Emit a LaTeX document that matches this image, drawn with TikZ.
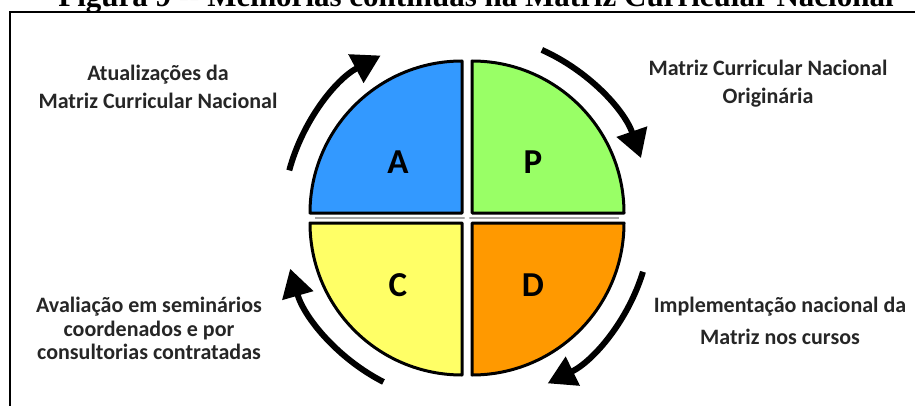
\documentclass[tikz,border=0pt]{standalone}
\usepackage{fontspec}
\setmainfont{Carlito}
\newfontfamily\titlefont{Liberation Serif}
\usepackage{tikz}
\usetikzlibrary{arrows.meta}

\definecolor{qblue}{RGB}{51,153,255}
\definecolor{qgreen}{RGB}{153,255,102}
\definecolor{qyellow}{RGB}{255,255,102}
\definecolor{qorange}{RGB}{255,153,0}

\tikzset{
    quadrant/.style={draw=black, line width=3pt, line join=round},
    letter/.style={font=\bfseries\fontsize{35}{35}\selectfont, text=black},
    label/.style={font=\bfseries\fontsize{22}{28}\selectfont, text=black!85, align=center},
    cyclearrow/.style={line width=6pt, -{Triangle[length=28pt,width=31pt]}}
}

\begin{document}
\begin{tikzpicture}[x=1pt,y=1pt]
    \useasboundingbox (0,0) rectangle (915,405);

    % Title, cut by the top of the page
    \node[font=\titlefont\bfseries\fontsize{31}{31}\selectfont, anchor=base] (title) at (476,398)
        {Figura 9 -- Melhorias contínuas na Matriz Curricular Nacional};

    % Frame
    \draw[line width=2pt] (925,392.7) -- (10,392.7) -- (10,-10);

    % Centre of the cycle
    \coordinate (c) at (467,187);

    % Draw the quadrants
    \draw[gray!70, line width=2pt] ([xshift=-152]c) -- ([xshift=152]c);
    \filldraw[quadrant, fill=qblue] ([shift={(-5,5)}]c) -- ++(180:152) arc (180:90:152) -- cycle; % A
    \filldraw[quadrant, fill=qgreen] ([shift={(5,5)}]c) -- ++(90:152) arc (90:0:152) -- cycle; % P
    \filldraw[quadrant, fill=qyellow] ([shift={(-5,-5)}]c) -- ++(270:152) arc (270:180:152) -- cycle; % C
    \filldraw[quadrant, fill=qorange] ([shift={(5,-5)}]c) -- ++(0:152) arc (0:-90:152) -- cycle; % D
    \fill[white] (c) circle (2.5);

    % Letters
    \node[letter] (act) at (398,243) {A};
    \node[letter] (plan) at (533,243) {P};
    \node[letter] (check) at (398,120) {C};
    \node[letter] (do) at (533,120) {D};

    % Arrows round the circle
    \draw[cyclearrow] ([shift={(165:184)}]c) arc (165:118:184);
    \draw[cyclearrow] ([shift={(66:184)}]c) arc (66:19:184);
    \draw[cyclearrow] ([shift={(-17:184)}]c) arc (-17:-64:184);
    \draw[cyclearrow] ([shift={(243:184)}]c) arc (243:196:184);

    % Labels of the steps
    \node[label] (atual) at (158,318) {Atualizações da\\Matriz Curricular Nacional};
    \node[label] (orig) at (768,321) {Matriz Curricular Nacional\\Originária};
    \node[label, font=\bfseries\fontsize{22}{23.5}\selectfont] (aval) at (149,76.5)
        {Avaliação em seminários\\coordenados e por\\consultorias contratadas};
    \node[label, font=\bfseries\fontsize{22}{32}\selectfont] (impl) at (780,84)
        {Implementação nacional da\\Matriz nos cursos};
\end{tikzpicture}
\end{document}
